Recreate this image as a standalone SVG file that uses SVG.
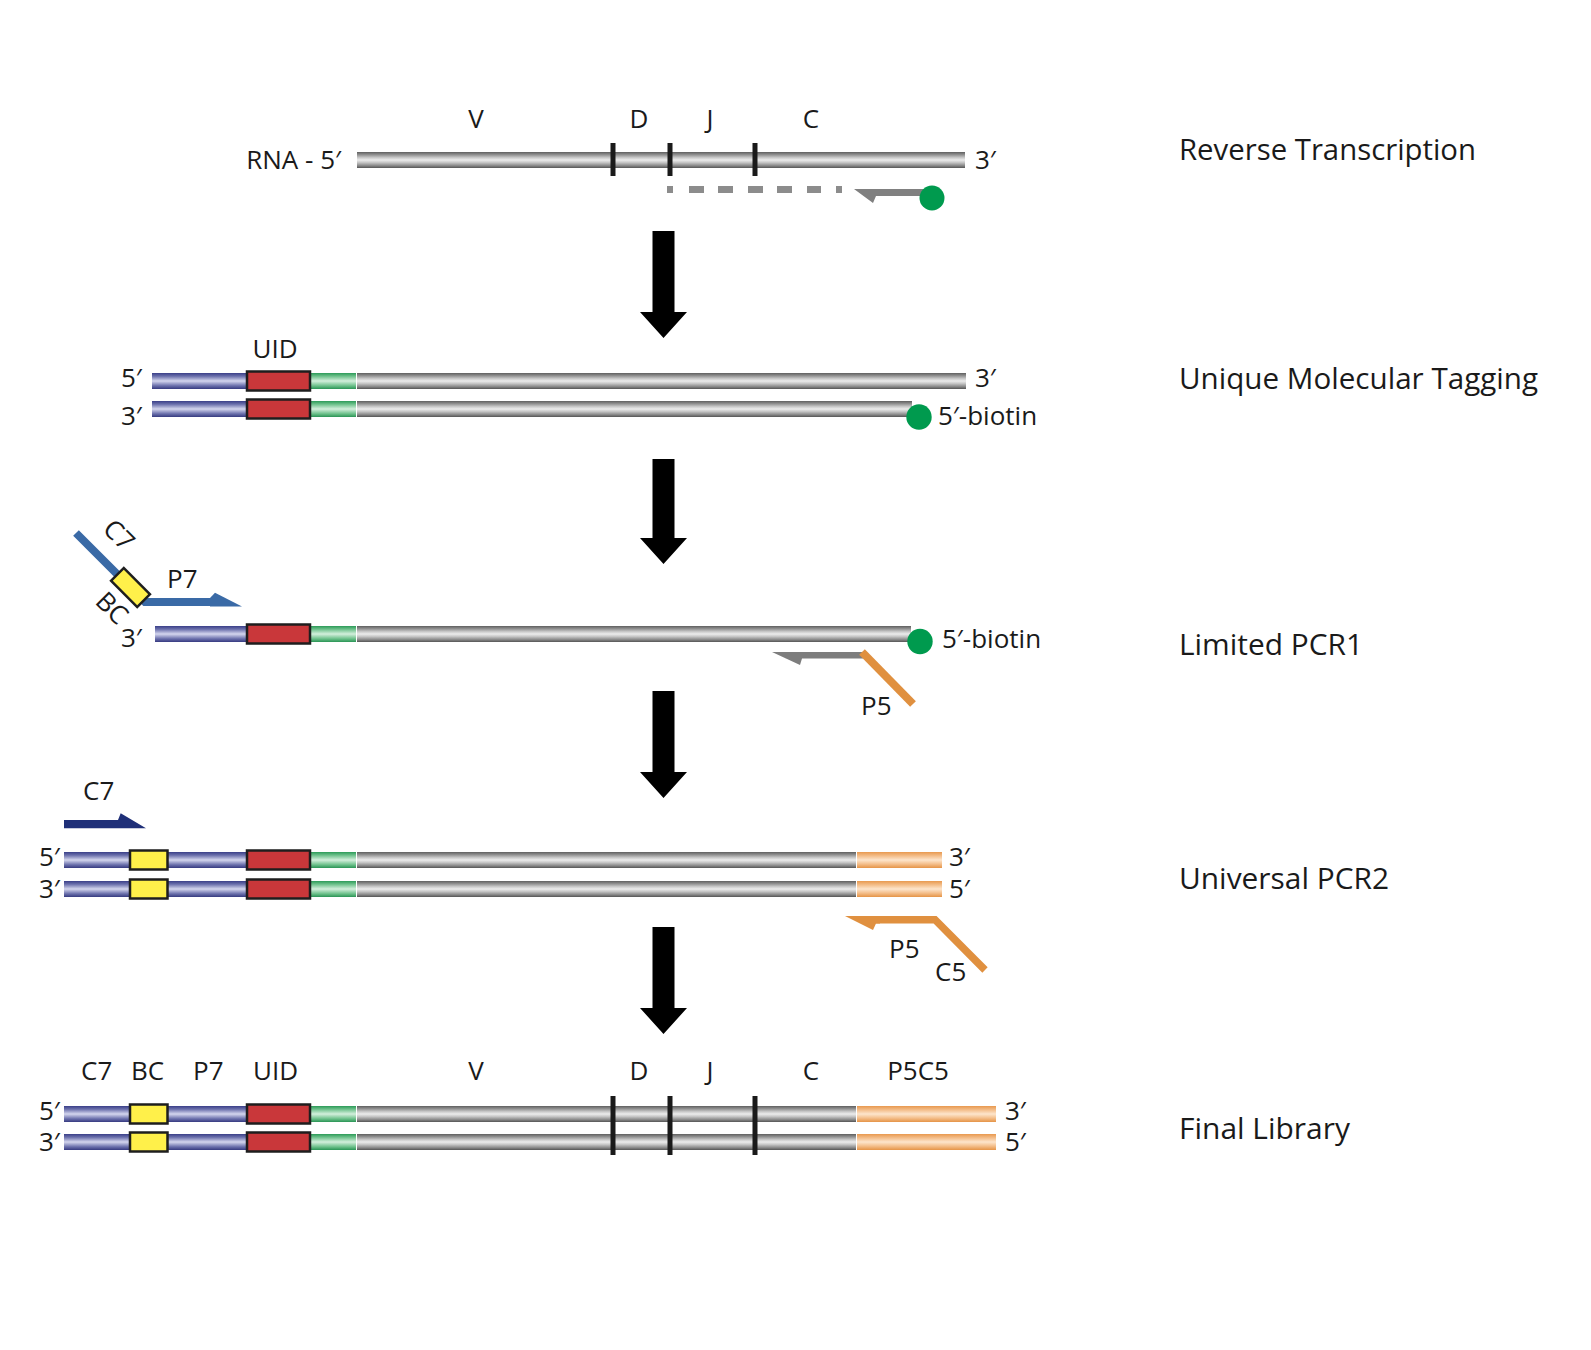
<svg xmlns="http://www.w3.org/2000/svg" width="1591" height="1350" viewBox="0 0 1591 1350">
<defs>
<linearGradient id="gGray" x1="0" y1="0" x2="0" y2="1">
<stop offset="0" stop-color="#5f5f5f"/><stop offset="0.15" stop-color="#8a8a8a"/><stop offset="0.35" stop-color="#c8c8c8"/><stop offset="0.5" stop-color="#ececec"/><stop offset="0.65" stop-color="#c8c8c8"/><stop offset="0.85" stop-color="#8a8a8a"/><stop offset="1" stop-color="#555555"/>
</linearGradient>
<linearGradient id="gBlue" x1="0" y1="0" x2="0" y2="1">
<stop offset="0" stop-color="#3a3f88"/><stop offset="0.2" stop-color="#6a6fab"/><stop offset="0.5" stop-color="#d4d6ee"/><stop offset="0.8" stop-color="#6a6fab"/><stop offset="1" stop-color="#363a80"/>
</linearGradient>
<linearGradient id="gGreen" x1="0" y1="0" x2="0" y2="1">
<stop offset="0" stop-color="#2c9a58"/><stop offset="0.2" stop-color="#6cc08a"/><stop offset="0.5" stop-color="#d3efdc"/><stop offset="0.8" stop-color="#6cc08a"/><stop offset="1" stop-color="#2a9455"/>
</linearGradient>
<linearGradient id="gOrange" x1="0" y1="0" x2="0" y2="1">
<stop offset="0" stop-color="#e8994f"/><stop offset="0.25" stop-color="#f4bf8c"/><stop offset="0.5" stop-color="#fde5cc"/><stop offset="0.75" stop-color="#f4bf8c"/><stop offset="1" stop-color="#e59447"/>
</linearGradient>
</defs>
<style>
text{font-family:"Open Sans","DejaVu Sans",sans-serif;fill:#1a1a1a}
.lb{font-size:26px}
.st{font-size:29px}
.mid{text-anchor:middle}
.end{text-anchor:end}
.gray{fill:url(#gGray)}
.blue{fill:url(#gBlue)}
.green{fill:url(#gGreen)}
.orange{fill:url(#gOrange)}
.uid{fill:#c9373a;stroke:#1e1e1e;stroke-width:2.5}
.bc{fill:#fff04a;stroke:#1e1e1e;stroke-width:2.5}
.tick{fill:#1a1a1a}
.dot{fill:#009a4e}
.dash{fill:#8c8c8c}
.arrow{fill:#000}
</style>
<rect width="1591" height="1350" fill="#fff"/>

<g id="step-labels">
<text class="st" x="1179" y="160" textLength="297" lengthAdjust="spacingAndGlyphs">Reverse Transcription</text>
<text class="st" x="1179" y="389" textLength="359" lengthAdjust="spacingAndGlyphs">Unique Molecular Tagging</text>
<text class="st" x="1179" y="655" textLength="184" lengthAdjust="spacingAndGlyphs">Limited PCR1</text>
<text class="st" x="1179" y="889" textLength="210" lengthAdjust="spacingAndGlyphs">Universal PCR2</text>
<text class="st" x="1179" y="1139" textLength="171" lengthAdjust="spacingAndGlyphs">Final Library</text>
</g>

<g id="rt">
<text class="lb mid" x="476" y="128">V</text>
<text class="lb mid" x="639" y="128">D</text>
<text class="lb mid" x="710" y="128">J</text>
<text class="lb mid" x="811" y="128">C</text>
<text class="lb end" x="341" y="169">RNA - 5′</text>
<text class="lb" x="975" y="169">3′</text>
<rect class="gray" x="357" y="152" width="608" height="16"/>
<rect class="tick" x="610.5" y="143" width="5" height="33"/>
<rect class="tick" x="667.5" y="143" width="5" height="33"/>
<rect class="tick" x="752.5" y="143" width="5" height="33"/>
<rect class="dash" x="667" y="186" width="6" height="7"/>
<rect class="dash" x="689" y="186" width="15" height="7"/>
<rect class="dash" x="718" y="186" width="15" height="7"/>
<rect class="dash" x="748" y="186" width="15" height="7"/>
<rect class="dash" x="777" y="186" width="15" height="7"/>
<rect class="dash" x="807" y="186" width="14" height="7"/>
<rect class="dash" x="836" y="186" width="6" height="7"/>
<polygon fill="#808080" points="854,189 932,189 932,196 876,196 873,203"/>
<circle class="dot" cx="932" cy="198" r="12.5"/>
</g>

<g id="umt">
<text class="lb mid" x="275" y="358">UID</text>
<text class="lb" x="121" y="387">5′</text>
<text class="lb" x="121" y="425">3′</text>
<rect class="blue" x="152" y="373" width="95" height="16"/>
<rect class="green" x="310" y="373" width="46" height="16"/>
<rect class="gray" x="357" y="373" width="609" height="16"/>
<rect class="uid" x="247" y="371.5" width="63" height="19"/>
<rect class="blue" x="152" y="401" width="95" height="16"/>
<rect class="green" x="310" y="401" width="46" height="16"/>
<rect class="gray" x="357" y="401" width="555" height="16"/>
<rect class="uid" x="247" y="399.5" width="63" height="19"/>
<circle class="dot" cx="919" cy="417" r="12.7"/>
<text class="lb" x="975" y="387">3′</text>
<text class="lb" x="938" y="425">5′-biotin</text>
</g>

<g id="pcr1">
<text class="lb" x="121" y="647">3′</text>
<rect class="blue" x="155" y="626" width="92" height="16"/>
<rect class="green" x="310" y="626" width="46" height="16"/>
<rect class="gray" x="357" y="626" width="554" height="16"/>
<rect class="uid" x="247" y="624.5" width="63" height="19"/>
<circle class="dot" cx="920" cy="641.5" r="12.7"/>
<text class="lb" x="942" y="648">5′-biotin</text>
<g id="p7-primer">
<path d="M76,533 L145,602 L214,602" fill="none" stroke="#3a6aa6" stroke-width="8" stroke-linejoin="miter"/>
<polygon fill="#3a6aa6" points="210,598 215,592.7 242,606.5 210,606.5"/>
<rect class="bc" x="-18.5" y="-9" width="37" height="18" transform="translate(130.5,587.5) rotate(45)"/>
<text class="lb mid" transform="translate(119,535) rotate(45)" x="0" y="9">C7</text>
<text class="lb mid" transform="translate(112,608) rotate(45)" x="0" y="9">BC</text>
<text class="lb" x="167" y="588">P7</text>
</g>
<g id="p5-primer">
<polygon fill="#7d7d7d" points="772,652 863,652 863,658.5 802,658.5 800,665"/>
<path d="M862,652 L913,704" fill="none" stroke="#e0903f" stroke-width="8"/>
<text class="lb" x="861" y="715">P5</text>
</g>
</g>

<g id="pcr2">
<g id="c7-primer">
<text class="lb" x="83" y="800">C7</text>
<polygon fill="#1f2f78" points="64,820 118,820 120.7,813.3 146,828.3 64,828.3"/>
</g>
<text class="lb" x="39" y="866">5′</text>
<text class="lb" x="39" y="898">3′</text>
<rect class="blue" x="64" y="852" width="183" height="16"/>
<rect class="green" x="310" y="852" width="46" height="16"/>
<rect class="gray" x="357" y="852" width="499" height="16"/>
<rect class="orange" x="857" y="852" width="85" height="16"/>
<rect class="bc" x="130" y="850.5" width="37.5" height="19"/>
<rect class="uid" x="247" y="850.5" width="63" height="19"/>
<rect class="blue" x="64" y="881" width="183" height="16"/>
<rect class="green" x="310" y="881" width="46" height="16"/>
<rect class="gray" x="357" y="881" width="499" height="16"/>
<rect class="orange" x="857" y="881" width="85" height="16"/>
<rect class="bc" x="130" y="879.5" width="37.5" height="19"/>
<rect class="uid" x="247" y="879.5" width="63" height="19"/>
<text class="lb" x="949" y="866">3′</text>
<text class="lb" x="949" y="898">5′</text>
<g id="p5c5-primer">
<path d="M872,919.7 L935,919.7 L985,970" fill="none" stroke="#e0903f" stroke-width="7.5" stroke-linejoin="miter"/>
<polygon fill="#e0903f" points="845,916 880,916 880,923.4 876,923.4 873,930"/>
<text class="lb" x="889" y="958">P5</text>
<text class="lb" x="935" y="981">C5</text>
</g>
</g>

<g id="final">
<text class="lb" x="81" y="1080">C7</text>
<text class="lb" x="131" y="1080">BC</text>
<text class="lb" x="193" y="1080">P7</text>
<text class="lb" x="253" y="1080">UID</text>
<text class="lb mid" x="476" y="1080">V</text>
<text class="lb mid" x="639" y="1080">D</text>
<text class="lb mid" x="710" y="1080">J</text>
<text class="lb mid" x="811" y="1080">C</text>
<text class="lb mid" x="918" y="1080">P5C5</text>
<text class="lb" x="39" y="1120">5′</text>
<text class="lb" x="39" y="1151">3′</text>
<rect class="blue" x="64" y="1106" width="183" height="16"/>
<rect class="green" x="310" y="1106" width="46" height="16"/>
<rect class="gray" x="357" y="1106" width="499" height="16"/>
<rect class="orange" x="857" y="1106" width="139" height="16"/>
<rect class="bc" x="130" y="1104.5" width="37.5" height="19"/>
<rect class="uid" x="247" y="1104.5" width="63" height="19"/>
<rect class="blue" x="64" y="1134" width="183" height="16"/>
<rect class="green" x="310" y="1134" width="46" height="16"/>
<rect class="gray" x="357" y="1134" width="499" height="16"/>
<rect class="orange" x="857" y="1134" width="139" height="16"/>
<rect class="bc" x="130" y="1132.5" width="37.5" height="19"/>
<rect class="uid" x="247" y="1132.5" width="63" height="19"/>
<rect class="tick" x="610.5" y="1096" width="5" height="59"/>
<rect class="tick" x="667.5" y="1096" width="5" height="59"/>
<rect class="tick" x="752.5" y="1096" width="5" height="59"/>
<text class="lb" x="1005" y="1120">3′</text>
<text class="lb" x="1005" y="1151">5′</text>
</g>

<g id="connectors">
<polygon class="arrow" points="652.5,231 674.5,231 674.5,312 687,312 663.5,338 640,312 652.5,312"/>
<polygon class="arrow" points="652.5,459 674.5,459 674.5,538 687,538 663.5,564 640,538 652.5,538"/>
<polygon class="arrow" points="652.5,691 674.5,691 674.5,772 687,772 663.5,798 640,772 652.5,772"/>
<polygon class="arrow" points="652.5,927 674.5,927 674.5,1008 687,1008 663.5,1034 640,1008 652.5,1008"/>
</g>
</svg>
